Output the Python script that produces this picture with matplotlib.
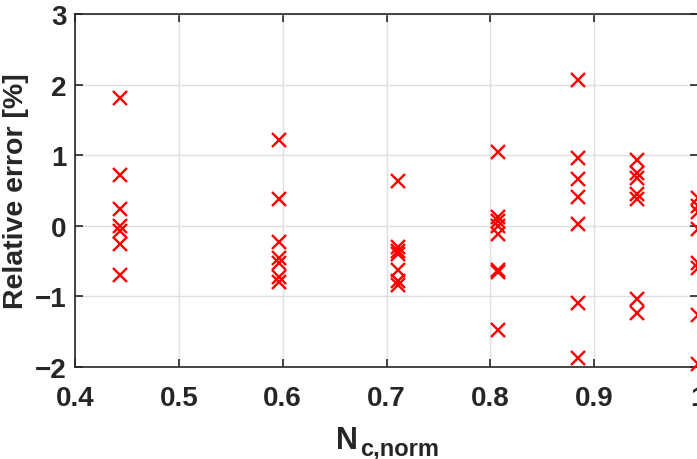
import numpy as np
import matplotlib
matplotlib.use("Agg")
import matplotlib.pyplot as plt

plt.rcParams['font.family'] = ['Liberation Sans', 'DejaVu Sans']
plt.rcParams['font.weight'] = 'bold'

#------------------------------------------------------------------------------
# data: normalised Nc and relative error (%)

nc = [0.443, 0.596, 0.711, 0.807, 0.884, 0.941, 1.0]

err_0443 = [1.81, 0.72, 0.24, 0.0, -0.07, -0.25, -0.70]
err_0596 = [1.22, 0.38, -0.23, -0.46, -0.53, -0.73, -0.79]
err_0711 = [0.64, -0.30, -0.35, -0.40, -0.62, -0.78, -0.84]
err_0807 = [1.04, 0.13, 0.07, 0.0, -0.12, -0.63, -0.66, -1.47]
err_0884 = [2.07, 0.96, 0.67, 0.41, 0.02, -1.09, -1.87]
err_0941 = [0.93, 0.75, 0.68, 0.45, 0.38, -1.03, -1.23]
err_1000 = [0.40, 0.28, 0.20, -0.04, -0.53, -0.60, -1.27, -1.96]

errors = [err_0443, err_0596, err_0711, err_0807, err_0884, err_0941, err_1000]

#------------------------------------------------------------------------------

W, H = 697., 460.
fig = plt.figure(figsize=(6.97, 4.60), dpi=100)
ax = fig.add_axes([0.1076, 0.2, 0.894, 0.767])

for x, ys in zip(nc, errors):
    ax.plot([x] * len(ys), ys, 'x', color='red', markersize=10.5,
            markeredgewidth=1.7, clip_on=False, zorder=3)

ax.set_xlim(0.4, 1.0)
ax.set_ylim(-2, 3)
ax.set_xticks([0.4, 0.5, 0.6, 0.7, 0.8, 0.9, 1.0])
ax.set_xticklabels(['0.4', '0.5', '0.6', '0.7', '0.8', '0.9', '1'])
ax.set_yticks([-2, -1, 0, 1, 2, 3])

ax.grid(True, color='#dfdfdf', linewidth=1)
ax.set_axisbelow(True)
for s in ax.spines.values():
    s.set_color('#262626')
    s.set_linewidth(1.2)
ax.tick_params(direction='in', length=6, width=1.2, color='#262626',
               labelcolor='#262626', labelsize=20, top=True, right=True)
ax.tick_params(axis='x', pad=13)
ax.tick_params(axis='y', pad=6)
for lab in ax.get_xticklabels() + ax.get_yticklabels():
    lab.set_fontweight('bold')

ax.set_ylabel('Relative error [%]', fontsize=20.5, fontweight='bold',
              color='#262626', labelpad=4)

# x label: big N with a subscript, placed as two texts
fig.text(336 / W, (H - 449) / H, 'N', fontsize=22, fontweight='bold',
         color='#262626', ha='left', va='baseline')
fig.text(360 / W, (H - 456) / H, 'c,norm', fontsize=17, fontweight='bold',
         color='#262626', ha='left', va='baseline')

fig.savefig('out.png', dpi=100)
